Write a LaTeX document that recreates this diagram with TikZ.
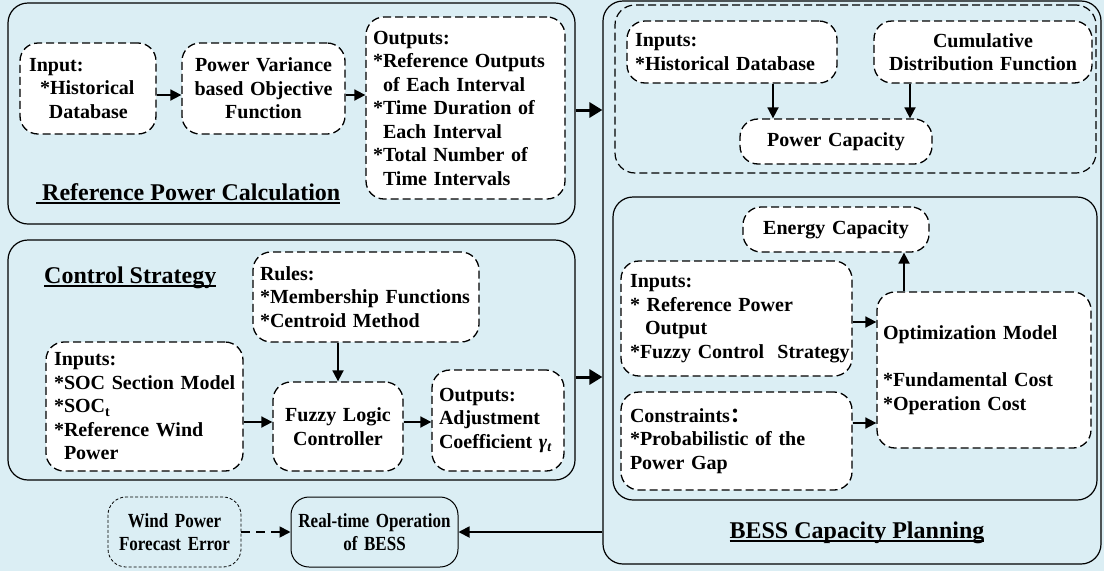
\documentclass[tikz,border=0pt]{standalone}
\usepackage{fontspec}
\setmainfont{Liberation Serif}
\newfontfamily\condfont{Liberation Serif}[FakeStretch=0.85]
\newfontfamily\cjk{Noto Sans CJK SC}
\usetikzlibrary{arrows.meta}
\definecolor{bg}{RGB}{219,238,244}
\newcommand{\myul}[1]{\setbox0\hbox{#1}\rlap{\rule[-3.8pt]{\wd0}{1.6pt}}\box0}
\hyphenpenalty=10000
\begin{document}
\begin{tikzpicture}[x=1pt,y=-1pt,
  every node/.style={font=\bfseries\fontsize{20}{23.5}\selectfont, inner sep=0pt},
  obox/.style={draw, line width=1.2pt, rounded corners=20pt},
  gbox/.style={draw, line width=1.2pt, dash pattern=on 8pt off 4pt, rounded corners=20pt},
  dbox/.style={draw, line width=1.3pt, dash pattern=on 8pt off 4pt, rounded corners=18pt, fill=white},
  fbox/.style={draw, line width=0.8pt, dash pattern=on 3pt off 2pt, rounded corners=18pt, font=\condfont\bfseries\fontsize{20}{22.5}\selectfont},
  rbox/.style={draw, line width=1pt, rounded corners=18pt, font=\condfont\bfseries\fontsize{20}{22.5}\selectfont},
  ttl/.style={font=\bfseries\fontsize{24}{28}\selectfont},
  arr/.style={line width=1.8pt, -{Triangle[length=11pt,width=11pt]}},
  tarr/.style={line width=3pt, -{Triangle[length=13pt,width=15pt]}},
  darr/.style={line width=1.8pt, dash pattern=on 9pt off 6pt, -{Triangle[length=11pt,width=11pt]}}]
\fill[bg] (0,0) rectangle (1104,571);
\useasboundingbox (0,0) rectangle (1104,571);

% outer boxes
\node[obox, minimum width=567pt, minimum height=221pt] (ref) at (291.5,113.5) {};
\node[obox, minimum width=567pt, minimum height=240pt] (ctrl) at (291.5,360) {};
\node[obox, minimum width=498pt, minimum height=563pt] (bess) at (852,282.5) {};
\node[gbox, minimum width=481pt, minimum height=168pt] (pgrp) at (855.5,89) {};
\node[obox, minimum width=484pt, minimum height=303pt] (egrp) at (855,348.5) {};

% titles
\node[ttl, anchor=base west] (reft) at (36,200) {\myul{\ Reference Power Calculation}};
\node[ttl, anchor=base west] (ctrlt) at (44,283) {\myul{Control Strategy}};
\node[ttl, anchor=base] (besst) at (857,538) {\myul{BESS Capacity Planning}};

% reference power calculation
\node[dbox, minimum width=136pt, minimum height=91pt, text width=118pt, align=left] (in1) at (88,88.5)
  {Input:\\\hspace*{11pt}{*}Historical\\\hspace*{20pt}Database};
\node[dbox, minimum width=163pt, minimum height=91pt, text width=150pt, align=center] (pv) at (263.5,88.5)
  {Power Variance\\based Objective\\Function};
\node[dbox, minimum width=199pt, minimum height=182pt, text width=185pt, align=left] (out1) at (465.5,108)
  {Outputs:\\\mbox{{*}Reference Outputs}\\\hspace*{10pt}of Each Interval\\{*}Time Duration of\\\hspace*{10pt}Each Interval\\{*}Total Number of\\\hspace*{10pt}Time Intervals};

% power capacity group
\node[dbox, minimum width=210pt, minimum height=62pt, text width=194pt, align=left] (pin) at (732,52)
  {Inputs:\\\mbox{{*}Historical Database}};
\node[dbox, minimum width=218pt, minimum height=62pt, text width=200pt, align=center] (cdf) at (983,52)
  {Cumulative\\\mbox{Distribution Function}};
\node[dbox, minimum width=192pt, minimum height=45pt, text width=180pt, align=center] (pc) at (836,141.5)
  {Power Capacity};

% energy capacity group
\node[dbox, minimum width=186pt, minimum height=45pt, text width=174pt, align=center] (ec) at (836,229.5)
  {Energy Capacity};
\node[dbox, minimum width=231pt, minimum height=115pt, text width=213pt, align=left] (ein) at (736.5,318.5)
  {Inputs:\\{*} Reference Power\\\hspace*{15pt}Output\\\mbox{{*}Fuzzy Control~ Strategy}};
\node[dbox, minimum width=214pt, minimum height=156pt, text width=202pt, align=left] (opt) at (984,370)
  {\mbox{Optimization Model}\\[23.5pt]{*}Fundamental Cost\\{*}Operation Cost};
\node[dbox, minimum width=231pt, minimum height=98pt, text width=213pt, align=left] (con) at (736.5,441)
  {Constraints{\cjk ：}\\\mbox{{*}Probabilistic of the}\\Power Gap};

% control strategy
\node[dbox, minimum width=226pt, minimum height=90pt, text width=212pt, align=left] (rules) at (366,297)
  {Rules:\\\mbox{{*}Membership Functions}\\{*}Centroid Method};
\node[dbox, minimum width=197pt, minimum height=129pt, text width=181pt, align=left] (cin) at (144.5,406.5)
  {Inputs:\\\mbox{{*}SOC Section Model}\\{*}SOC\textsubscript{t}\\\mbox{{*}Reference Wind}\\\hspace*{10pt}Power};
\node[dbox, minimum width=130pt, minimum height=89pt, text width=120pt, align=center] (flc) at (338,426.5)
  {Fuzzy Logic\\Controller};
\node[dbox, minimum width=132pt, minimum height=101pt, text width=118pt, align=left] (cout) at (498,420.5)
  {Outputs:\\Adjustment\\\mbox{Coefficient {\itshape γ\textsubscript{t}}}};

% bottom
\node[fbox, minimum width=133pt, minimum height=70pt, text width=125pt, align=center] (wpfe) at (174.5,532)
  {Wind Power\\\mbox{Forecast Error}};
\node[rbox, minimum width=167pt, minimum height=70pt, text width=160pt, align=center] (rto) at (374.5,532)
  {\mbox{Real-time Operation}\\of BESS};

% connectors
\draw[arr] ([yshift=-6.5pt]in1.east) -- ([yshift=-6.5pt]in1.east -| pv.west);
\draw[arr] ([yshift=-6.5pt]pv.east) -- ([yshift=-6.5pt]pv.east -| out1.west);
\draw[tarr] ([yshift=3.5pt]ref.east) -- ([yshift=3.5pt]ref.east -| bess.west);
\draw[arr] ([xshift=41pt]pin.south) -- ([xshift=41pt]pin.south |- pc.north);
\draw[arr] ([xshift=-73pt]cdf.south) -- ([xshift=-73pt]cdf.south |- pc.north);
\draw[arr] ([xshift=-80pt]opt.north) -- ([xshift=-80pt]opt.north |- ec.south);
\draw[arr] ([yshift=-3.5pt]ein.east) -- ([yshift=-3.5pt]ein.east -| opt.west);
\draw[arr] ([yshift=18pt]con.east) -- ([yshift=18pt]con.east -| opt.west);
\draw[arr] ([xshift=-28pt]rules.south) -- ([xshift=-28pt]rules.south |- flc.north);
\draw[arr] ([yshift=4.5pt]flc.west -| cin.east) -- ([yshift=4.5pt]flc.west);
\draw[arr] ([yshift=4.5pt]flc.east) -- ([yshift=4.5pt]flc.east -| cout.west);
\draw[tarr] ([yshift=-17pt]ctrl.east) -- ([yshift=-17pt]ctrl.east -| bess.west);
\draw[darr] (wpfe.east) -- (rto.west);
\draw[arr] (rto.east -| bess.west) -- (rto.east);
\end{tikzpicture}
\end{document}
